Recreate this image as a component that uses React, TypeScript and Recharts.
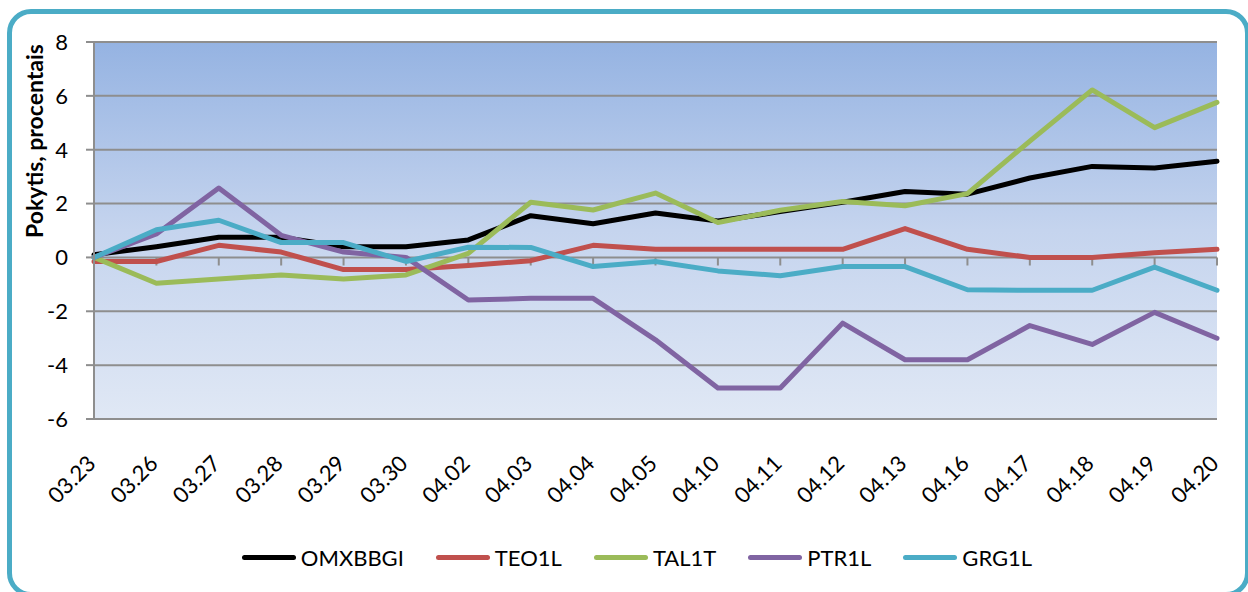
import {
  LineChart,
  Line,
  XAxis,
  YAxis,
  CartesianGrid,
  Legend,
  ReferenceLine,
} from 'recharts';

// data
const dates = [
  '03.23', '03.26', '03.27', '03.28', '03.29', '03.30', '04.02', '04.03', '04.04', '04.05',
  '04.10', '04.11', '04.12', '04.13', '04.16', '04.17', '04.18', '04.19', '04.20',
];
const omxbbgi = [0.1, 0.4, 0.75, 0.75, 0.4, 0.4, 0.65, 1.55, 1.25, 1.65, 1.35, 1.7, 2.05, 2.45, 2.35, 2.95, 3.38, 3.32, 3.57];
const teo1l = [-0.15, -0.15, 0.45, 0.2, -0.45, -0.45, -0.3, -0.12, 0.45, 0.3, 0.3, 0.3, 0.3, 1.07, 0.3, 0.0, 0.0, 0.17, 0.3];
const tal1t = [0, -0.96, -0.8, -0.65, -0.8, -0.65, 0.15, 2.05, 1.76, 2.39, 1.3, 1.75, 2.08, 1.92, 2.37, 4.32, 6.22, 4.82, 5.76];
const ptr1l = [0, 0.87, 2.58, 0.82, 0.2, 0.0, -1.58, -1.52, -1.52, -3.06, -4.85, -4.85, -2.44, -3.8, -3.8, -2.53, -3.23, -2.04, -3.0];
const grg1l = [0, 1.03, 1.38, 0.55, 0.55, -0.15, 0.38, 0.37, -0.34, -0.15, -0.5, -0.68, -0.34, -0.34, -1.2, -1.22, -1.22, -0.36, -1.22];
const yTicks = [-6, -4, -2, 0, 2, 4, 6, 8];

const series = [
  { key: 'OMXBBGI', values: omxbbgi, color: '#000000' },
  { key: 'TEO1L', values: teo1l, color: '#C0504D' },
  { key: 'TAL1T', values: tal1t, color: '#9BBB59' },
  { key: 'PTR1L', values: ptr1l, color: '#8064A2' },
  { key: 'GRG1L', values: grg1l, color: '#4BACC6' },
];

const rows = dates.map((date, i) => {
  const row: Record<string, string | number> = { date };
  series.forEach((s) => {
    row[s.key] = s.values[i];
  });
  return row;
});

const FONT = 'Lato, "Open Sans", sans-serif';
const GRID = '#8E8E8E';

function DateTick({ x, y, payload }: any) {
  return (
    <g transform={`translate(${x + 3},${y + 46})`}>
      <text textAnchor="end" transform="rotate(-45)" fontSize={22} fontFamily={FONT} fill="#000">
        {payload.value}
      </text>
    </g>
  );
}

function YTitle({ viewBox }: any) {
  const cx = viewBox.x + 34;
  const cy = viewBox.y + 99;
  return (
    <text
      x={cx}
      y={cy}
      transform={`rotate(-90, ${cx}, ${cy})`}
      textAnchor="middle"
      dominantBaseline="central"
      fontSize={23}
      fontWeight="bold"
      fontFamily={FONT}
      fill="#000"
    >
      Pokytis, procentais
    </text>
  );
}

function LegendBox() {
  return (
    <div
      style={{
        display: 'flex',
        justifyContent: 'center',
        alignItems: 'center',
        gap: 32,
        height: 30,
        width: 1248,
        paddingLeft: 26,
        boxSizing: 'border-box',
        fontFamily: FONT,
        fontSize: 22,
        color: '#000',
      }}
    >
      {series.map((s) => (
        <div key={s.key} style={{ display: 'flex', alignItems: 'center' }}>
          <span
            style={{ display: 'inline-block', width: 54, height: 5, borderRadius: 3, background: s.color, marginRight: 5 }}
          />
          <span>{s.key}</span>
        </div>
      ))}
    </div>
  );
}

export default function App() {
  return (
    <div style={{ position: 'absolute', left: 0, top: 0, width: 1248, height: 592, overflow: 'hidden', background: '#fff' }}>
      <div
        style={{
          position: 'absolute',
          left: 7,
          top: 9,
          width: 1243,
          height: 588,
          border: '5px solid #4BACC6',
          borderRadius: 24,
          boxSizing: 'border-box',
        }}
      />
      <div style={{ position: 'absolute', left: 0, top: 0 }}>
        <LineChart width={1248} height={592} data={rows} margin={{ top: 42, right: 31, left: 0, bottom: 20 }}>
          <defs>
            <linearGradient id="plotBg" x1="0" y1="0" x2="0" y2="1">
              <stop offset="0%" stopColor="#95B3E2" />
              <stop offset="50%" stopColor="#C5D4EE" />
              <stop offset="100%" stopColor="#E0E8F5" />
            </linearGradient>
          </defs>
          <CartesianGrid vertical={false} stroke={GRID} strokeWidth={2} fill="url(#plotBg)" fillOpacity={1} />
          <XAxis
            dataKey="date"
            interval={0}
            axisLine={false}
            tickLine={false}
            tickSize={0}
            tickMargin={0}
            height={123}
            tick={<DateTick />}
          />
          <YAxis
            type="number"
            domain={[-6, 8]}
            ticks={yTicks}
            width={94}
            axisLine={{ stroke: GRID, strokeWidth: 2 }}
            tickLine={{ stroke: GRID, strokeWidth: 2 }}
            tickSize={8}
            tickMargin={18}
            tick={{ fill: '#000', fontSize: 22, fontFamily: FONT }}
            label={{ content: <YTitle /> }}
          />
          {dates.map((d) => (
            <ReferenceLine
              key={d}
              segment={[
                { x: d, y: 0 },
                { x: d, y: -0.3 },
              ]}
              stroke={GRID}
              strokeWidth={2}
            />
          ))}
          <Legend verticalAlign="bottom" content={<LegendBox />} wrapperStyle={{ left: 0, width: 1248 }} />
          {series.map((s) => (
            <Line
              key={s.key}
              type="linear"
              dataKey={s.key}
              stroke={s.color}
              strokeWidth={5}
              strokeLinecap="round"
              strokeLinejoin="round"
              dot={false}
              activeDot={false}
              isAnimationActive={false}
            />
          ))}
        </LineChart>
      </div>
    </div>
  );
}
